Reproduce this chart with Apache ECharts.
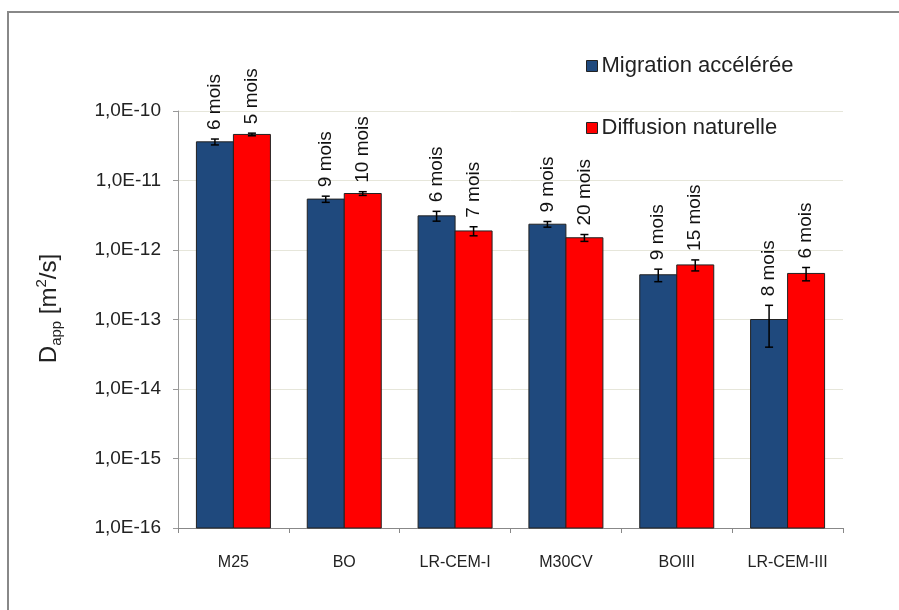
<!DOCTYPE html>
<html lang="fr">
<head>
    <meta charset="UTF-8">
    <title>Dapp</title>
    <script src="https://cdn.jsdelivr.net/npm/echarts@6/dist/echarts.min.js"></script>
    <style>
        body { margin: 0; background: #fff; }
    </style>
</head>
<body>
<div id="main" style="width: 899px;height:610px;"></div>
<script>
    // donnees
    let categories = ['M25', 'BO', 'LR-CEM-I', 'M30CV', 'BOIII', 'LR-CEM-III'];
    let yTicks = [1e-16, 1e-15, 1e-14, 1e-13, 1e-12, 1e-11, 1e-10];
    let migration = [3.6e-11, 5.4e-12, 3.1e-12, 2.35e-12, 4.4e-13, 1.0e-13];
    let migrationErr = [0.35e-11, 0.55e-12, 0.5e-12, 0.22e-12, 0.9e-13, 0.6e-13];
    let migrationAge = ['6 mois', '9 mois', '6 mois', '9 mois', '9 mois', '8 mois'];
    let diffusion = [4.6e-11, 6.5e-12, 1.88e-12, 1.5e-12, 6.1e-13, 4.6e-13];
    let diffusionErr = [0.2e-11, 0.4e-12, 0.28e-12, 0.17e-12, 1.1e-13, 1.0e-13];
    let diffusionAge = ['5 mois', '10 mois', '7 mois', '20 mois', '15 mois', '6 mois'];

    let chartDom = document.getElementById('main');
    let myChart = echarts.init(chartDom);
    let option;
    const barW = 37;
    const yMin = yTicks[0];
    const yMax = yTicks[yTicks.length - 1];

    // barres log : ECharts part de 1 sur un axe log, donc on dessine a la main
    function barSeries(name, color, vals, errs, ages, side)
    {
        let data = vals.map(function (v, i)
        {
            return [i, v, v - errs[i], v + errs[i], ages[i]];
        });
        return {
            name: name,
            type: 'custom',
            clip: false,
            silent: true,
            itemStyle: {color: color, borderColor: '#222', borderWidth: 1},
            data: data,
            encode: {x: 0, y: [1, 2, 3]},
            renderItem: function (params, api)
            {
                let i = api.value(0);
                let top = api.coord([i, api.value(1)]);
                let base = api.coord([i, yMin]);
                let lo = api.coord([i, api.value(2)]);
                let hi = api.coord([i, api.value(3)]);
                let x = top[0] + side * barW / 2;
                let x0 = side < 0 ? top[0] - barW : top[0];
                let style = {stroke: '#000', lineWidth: 1.5};
                return {
                    type: 'group',
                    children: [
                        {
                            type: 'rect',
                            shape: {x: x0, y: top[1], width: barW, height: base[1] - top[1]},
                            style: {fill: color, stroke: '#222', lineWidth: 1}
                        },
                        {type: 'line', shape: {x1: x, y1: lo[1], x2: x, y2: hi[1]}, style: style},
                        {type: 'line', shape: {x1: x - 4, y1: lo[1], x2: x + 4, y2: lo[1]}, style: style},
                        {type: 'line', shape: {x1: x - 4, y1: hi[1], x2: x + 4, y2: hi[1]}, style: style},
                        {
                            type: 'text',
                            x: x,
                            y: hi[1] - 9,
                            rotation: Math.PI / 2,
                            style: {
                                text: api.value(4),
                                fill: '#111',
                                font: '19px "Liberation Sans", Arial, sans-serif',
                                align: 'left',
                                verticalAlign: 'middle'
                            }
                        }
                    ]
                };
            }
        };
    }

    option = {
        animation: false,
        textStyle: {fontFamily: '"Liberation Sans", Arial, sans-serif'},
        graphic: [
            {
                type: 'rect',
                shape: {x: 8, y: 12, width: 900, height: 610},
                style: {fill: 'none', stroke: '#888', lineWidth: 2},
                silent: true
            }
        ],
        legend: {
            orient: 'vertical',
            left: 581,
            top: 50,
            itemWidth: 11,
            itemHeight: 11,
            itemGap: 40,
            icon: 'rect',
            itemStyle: {borderColor: '#222', borderWidth: 1},
            data: ['Migration accélérée', 'Diffusion naturelle'],
            textStyle: {fontSize: 22, color: '#222', padding: [0, 0, 0, -1]}
        },
        grid: {left: 178, right: 56, top: 111, bottom: 82},
        xAxis: {
            type: 'category',
            data: categories,
            axisLine: {lineStyle: {color: '#888', width: 1}},
            axisTick: {show: true, length: 5, lineStyle: {color: '#888'}},
            axisLabel: {fontSize: 16, color: '#222', margin: 27}
        },
        yAxis: {
            type: 'log',
            logBase: 10,
            min: yMin,
            max: yMax,
            name: '{n|D}{sub|app}{n| [m}{sup|2}{n|/s]}',
            nameLocation: 'middle',
            nameRotate: 90,
            nameGap: 114,
            nameTextStyle: {
                padding: [0, 0, 0, 22],
                rich: {
                    n: {fontSize: 24, color: '#222', lineHeight: 30},
                    sub: {fontSize: 15, color: '#222', lineHeight: 15, verticalAlign: 'bottom'},
                    sup: {fontSize: 15, color: '#222', lineHeight: 15, verticalAlign: 'top'}
                }
            },
            axisLine: {show: true, lineStyle: {color: '#999', width: 1}},
            axisTick: {show: true, length: 5, lineStyle: {color: '#999'}},
            axisLabel: {
                fontSize: 19,
                color: '#222',
                margin: 17,
                formatter: function (v)
                {
                    return '1,0E' + Math.round(Math.log10(v));
                }
            },
            splitLine: {show: true, lineStyle: {color: '#e6e6da', width: 1}},
            minorTick: {show: false}
        },
        series: [
            barSeries('Migration accélérée', '#1f497d', migration, migrationErr, migrationAge, -1),
            barSeries('Diffusion naturelle', '#ff0000', diffusion, diffusionErr, diffusionAge, 1)
        ]
    };
    myChart.setOption(option);
</script>
</body>
</html>
